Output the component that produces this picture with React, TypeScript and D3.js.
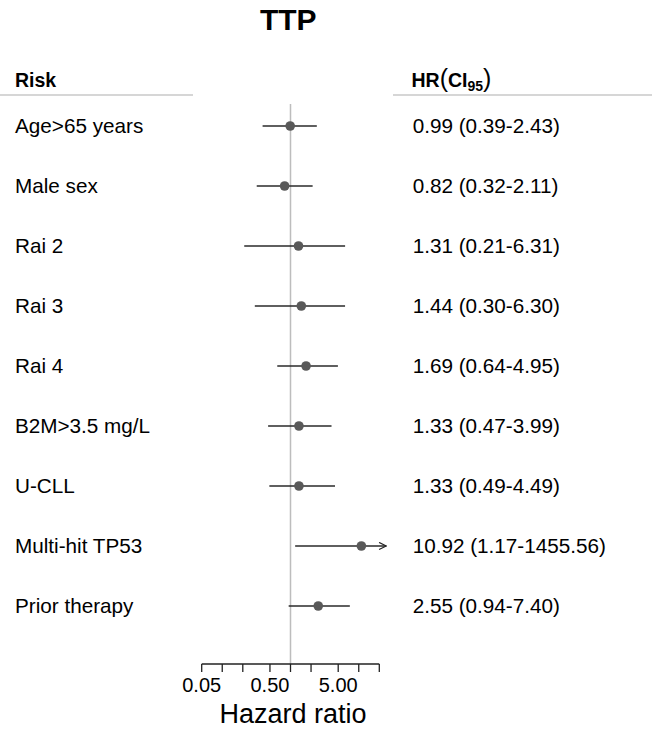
import React from "react";
import * as d3 from "d3";

const labels = ["Age>65 years", "Male sex", "Rai 2", "Rai 3", "Rai 4", "B2M>3.5 mg/L", "U-CLL", "Multi-hit TP53", "Prior therapy"];
const hr = [0.99, 0.82, 1.31, 1.44, 1.69, 1.33, 1.33, 10.92, 2.55];
const lower = [0.39, 0.32, 0.21, 0.3, 0.64, 0.47, 0.49, 1.17, 0.94];
const upper = [2.43, 2.11, 6.31, 6.3, 4.95, 3.99, 4.49, 1455.56, 7.4];
const tickValues = [0.05, 0.1, 0.2, 0.5, 1, 2, 5, 10, 20];
const tickLabels: Record<string, string> = { "0.05": "0.05", "0.5": "0.50", "5": "5.00" };

const W = 652, H = 733;
const FONT = "Liberation Sans, Arial, sans-serif";

export default function App() {
  const x = d3.scaleLog().domain([0.05, 20]).range([201.7, 379.3]);
  const y = d3.scalePoint<string>().domain(labels).range([126, 606]);
  const axisY = 664;
  const fmt = (v: number) => v.toFixed(2);
  return (
    <svg width={W} height={H} style={{ position: "absolute", left: 0, top: 0, background: "#fff" }} fontFamily={FONT}>
      <defs>
        <marker id="arr" viewBox="0 0 10 10" refX="9" refY="5" markerWidth="9" markerHeight="9" markerUnits="userSpaceOnUse" orient="auto">
          <path d="M1,1 L9,5 L1,9" fill="none" stroke="#222" strokeWidth={1.3} />
        </marker>
      </defs>
      <text x={288.3} y={30} textAnchor="middle" fontSize={30} fontWeight="bold">TTP</text>
      <text x={15} y={86.7} fontSize={19.5} fontWeight="bold">Risk</text>
      <text x={411.5} y={86.7} fontSize={19.5} fontWeight="bold">
        HR<tspan fontWeight="normal" fontSize={25}>(</tspan>CI<tspan fontSize={14} dy={4}>95</tspan><tspan fontWeight="normal" fontSize={25} dy={-4}>)</tspan>
      </text>
      <line x1={0} x2={193} y1={95} y2={95} stroke="#c8c8c8" strokeWidth={1.5} />
      <line x1={393} x2={652} y1={95} y2={95} stroke="#c8c8c8" strokeWidth={1.5} />
      <line x1={x(1)} x2={x(1)} y1={104} y2={axisY} stroke="#bdbdbd" strokeWidth={1.5} />
      {labels.map((l, i) => {
        const yy = y(l)!;
        const off = upper[i] > 20;
        const xu = off ? x(20) + 7 : x(upper[i]);
        return (
          <g key={l}>
            <text x={15} y={yy + 7} fontSize={20.7}>{l}</text>
            <line x1={x(lower[i])} x2={xu} y1={yy} y2={yy} stroke="#2a2a2a" strokeWidth={1.5} markerEnd={off ? "url(#arr)" : undefined} />
            <circle cx={x(hr[i])} cy={yy} r={4.8} fill="#595959" />
            <text x={412.7} y={yy + 7} fontSize={20.7}>{`${fmt(hr[i])} (${fmt(lower[i])}-${fmt(upper[i])})`}</text>
          </g>
        );
      })}
      <line x1={x(0.05)} x2={x(20)} y1={axisY} y2={axisY} stroke="#222" strokeWidth={1.3} />
      {tickValues.map((t) => (
        <g key={t}>
          <line x1={x(t)} x2={x(t)} y1={axisY} y2={axisY + 8} stroke="#222" strokeWidth={1.3} />
          {tickLabels[String(t)] && (
            <text x={x(t)} y={691.7} textAnchor="middle" fontSize={20}>{tickLabels[String(t)]}</text>
          )}
        </g>
      ))}
      <text x={293} y={723} textAnchor="middle" fontSize={27}>Hazard ratio</text>
    </svg>
  );
}
